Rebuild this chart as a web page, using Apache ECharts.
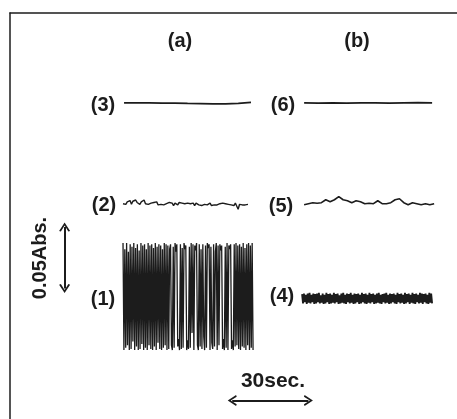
<!DOCTYPE html>
<html>
<head>
<meta charset="utf-8">
<script src="https://cdn.jsdelivr.net/npm/echarts@6/dist/echarts.min.js"></script>
<style>
html, body { margin: 0; padding: 0; background: #fff; }
#chart { width: 457px; height: 419px; }
</style>
</head>
<body>
<div id="chart"></div>
<script>
// trace names and where each one sits (baseline in Abs, start and length in sec)
var traceNames = ['(1)', '(2)', '(3)', '(4)', '(5)', '(6)'];
var baseAbs = [0.100, 0.175, 0.257, 0.098, 0.175, 0.257];
var startSec = [44.5, 44.5, 44.9, 115.0, 115.8, 115.8];
var lengthSec = [51.2, 49.2, 50.0, 51.2, 51.2, 50.4];

// deviations from baseline, mAbs
var trace1 = [43, -44, 38, -42, 43, -40, 36, -44, 42, -43, 40, -37, 43, -44, 39, -41, 42, -44, 37, -43, 43, -39, 41, -44, 42, -42, 38, -44, 43, -40,
	41, -43, 42, -44, 39, -41, 43, -44, 40, -38, 42, -43, 41, -44, 38, -42, 43, -40, 42, -44,
	41, -43, 38, 42, -40, -44, 40, -42, 43, 36, 42, -41, -35, -44, 42, -43, 39, -42, 43, 38, 41, -44, -36, -43, 40, -42, 43, -30, 42, -44,
	41, 37, 43, -40, -44, 42, -41, 38, -43, 42, -33, -44, 41, -42, 43, 39, 42, -44, 40, -38, -43, 42, -41, 36, 43, -44, 41, -40, 42, 37,
	41, -43, -35, -44, 40, -42, 43, -44, 41, 38, 42, -43, -36, -44, 42, -41, 43, -40, 41, -43,
	42, -44, 40, -41, 43, -42, 39, -44, 42, -40, 43, -44, 41, -42, 43, -44];
var trace2 = [0, 1, -0.5, 1.5, 0.5, 2.5, -0.5, 2, 0.5, 3, 1, 2.5, -0.5, 1.5, 0.5, 3, 0, 1.5, -0.5, 1, 0.5, -0.5, 1, 0, 1.5, -1, 0.5, -0.5, 1, -1,
	0.5, 0, -1, 1, -0.5, 0.5, -1.5, 0.5, 0, -1, 1, -0.5, 0.5, -1, 0, -1.5, 0.5, -0.5, 0, -1, 0.5, -1.5, 0.5, -0.5, -1, 0.5, -1.5, 0, -0.5, 0.5,
	-1, -0.5, 0.5, -1.5, 0, -1, 0.5, -1, -0.5, 0, -1.5, 0.5, -1, 0, -1.5, -0.5, 0.5, -1, 0, -1.5, 0.5, -1, -4.5, -0.5, 0, -1, -0.5, -1, 0, -0.5];
var trace3 = [0, 0, 0, -0.3, -0.3, -0.5, -0.6, -0.8, -0.8, -0.5, 0.3];
var trace4 = [3.5, -4, 4, -3, 3, -4.5, 4, -3.5, 4.5, -4, 3, -3, 4, -4.5, 3.5, -4, 4, -3, 4.5, -4, 2.5, -3.5, 4, -4.5, 3, -4, 4.5, -3, 3.5, -4.5,
	4, -4, 3, -3.5, 4.5, -4, 3.5, -3, 4, -4.5, 2.5, -4, 4, -3.5, 4.5, -4, 3, -4.5, 4, -3, 3.5, -4, 4.5, -3.5, 3, -4.5, 4, -4, 3.5, -3,
	4, -4.5, 3, -4, 4.5, -3, 3.5, -4, 4, -4.5, 3, -3.5, 4.5, -4, 3.5, -3, 4, -4.5, 3, -4, 4, -3.5, 4.5, -4, 3, -4.5, 3.5, -3, 4, -4,
	4.5, -3.5, 3, -4.5, 4, -4, 3.5, -3, 4, -4, 3, -4.5, 4.5, -3, 3.5, -4, 4, -3.5, 3, -4.5, 4.5, -4, 3.5, -3, 4, -4.5, 3, -3.5, 4.5, -4,
	3.5, -4.5, 4, -3, 3, -4, 4.5, -3.5, 4, -4.5, 3.5, -3, 4, -4, 3, -4.5, 4.5, -3.5, 4, -4];
var trace5 = [-0.8, 0, 0.8, 0.4, 0.8, 3.2, 1.6, 3.2, 5.7, 3.2, 2.4, 0.8, 2.4, 1.6, 0, 0.4, 0, 2.4, 0, 0, 0.8, 3.2, 4, 0.8, -0.8, 0.8, 0, -0.8, 0, -0.8, 0];
var trace6 = [0, -0.3, 0, -0.2, 0, 0, -0.2, 0, 0.2, 0];
var traces = [trace1, trace2, trace3, trace4, trace5, trace6];
var lineWidths = [1.3, 1.4, 1.8, 1.8, 1.6, 1.8];

// scale bars
var absBar = [0.106, 0.156];   // 0.05 Abs
var absBarSec = 21.5;
var secBar = [87.5, 117.5];    // 30 sec
var secBarAbs = 0.015;

var ink = '#1c1c1c';
var font = '"Liberation Sans", Arial, sans-serif';

function toPairs(k) {
	var arr = traces[k], n = arr.length, out = [];
	for (var i = 0; i < n; i++) {
		out.push([startSec[k] + i * lengthSec[k] / (n - 1), baseAbs[k] + arr[i] / 1000]);
	}
	return out;
}

var series = [];
for (var k = 0; k < traces.length; k++) {
	series.push({
		type: 'line',
		name: traceNames[k],
		data: toPairs(k),
		showSymbol: false,
		silent: true,
		lineStyle: { color: ink, width: lineWidths[k] }
	});
}

// open arrow head
var chevron = 'path://M0,10 L5,0 L10,10 L8.4,10.8 L5,3.6 L1.6,10.8 Z';
series.push({
	type: 'line',
	data: [],
	markLine: {
		silent: true,
		symbol: [chevron, chevron],
		symbolSize: [11, 9],
		label: { show: false },
		lineStyle: { color: ink, width: 2, type: 'solid' },
		data: [
			[{ coord: [absBarSec, absBar[0]] }, { coord: [absBarSec, absBar[1]] }],
			[{ coord: [secBar[0], secBarAbs] }, { coord: [secBar[1], secBarAbs] }]
		]
	}
});

function label(text, x, y, size, rot) {
	return {
		type: 'text', x: x, y: y, rotation: rot || 0,
		style: { text: text, font: 'bold ' + size + 'px ' + font, fill: ink, align: 'center', verticalAlign: 'middle' }
	};
}

var chart = echarts.init(document.getElementById('chart'));
chart.setOption({
	animation: false,
	backgroundColor: '#fff',
	grid: { left: 10, top: 13, right: 0, bottom: 0 },
	xAxis: {
		type: 'value', position: 'top', min: 0, max: 176,
		axisLine: { show: true, onZero: false, lineStyle: { color: ink, width: 1.5 } },
		axisTick: { show: false }, axisLabel: { show: false }, splitLine: { show: false }
	},
	yAxis: {
		type: 'value', min: 0, max: 0.33,
		axisLine: { show: true, onZero: false, lineStyle: { color: ink, width: 1.5 } },
		axisTick: { show: false }, axisLabel: { show: false }, splitLine: { show: false }
	},
	graphic: [
		label('(a)', 180, 41, 20),
		label('(b)', 357, 41, 20),
		label('(3)', 103, 105, 20),
		label('(6)', 283, 105, 20),
		label('(2)', 104, 205, 20),
		label('(5)', 281, 206, 20),
		label('(1)', 103, 299, 20),
		label('(4)', 282, 296, 20),
		label('0.05Abs.', 40, 258, 20, Math.PI / 2),
		label('30sec.', 273, 381, 21)
	],
	series: series
});
</script>
</body>
</html>
